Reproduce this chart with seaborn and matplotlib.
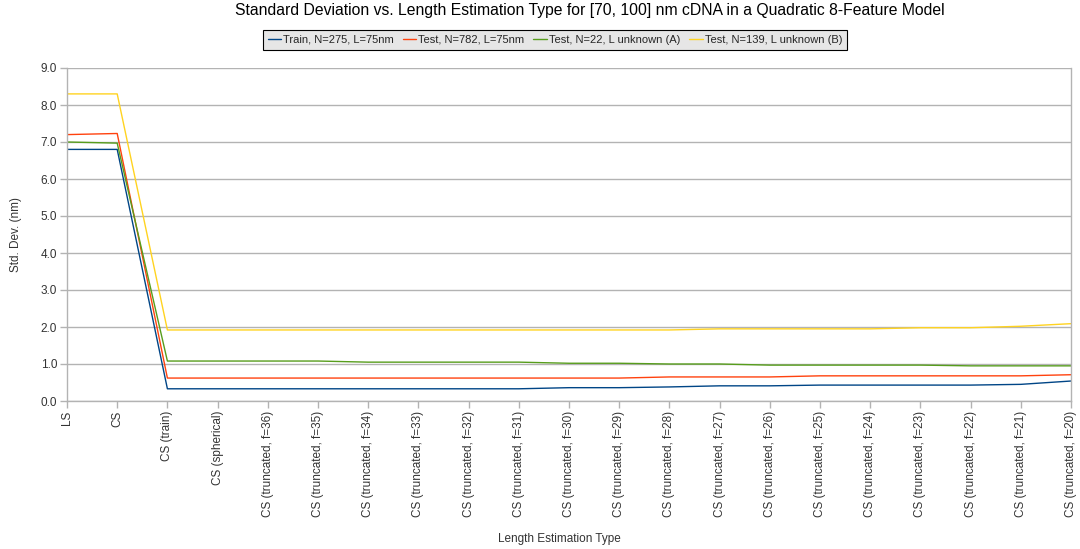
import numpy as np
import pandas as pd
import matplotlib
matplotlib.use("Agg")
import matplotlib.pyplot as plt
import seaborn as sns

categories = ["LS", "CS", "CS (train)", "CS (spherical)"] + [
    f"CS (truncated, f={f})" for f in range(36, 19, -1)
]

train_n275 = [6.80, 6.80, 0.33, 0.33, 0.33, 0.33, 0.33, 0.33, 0.33, 0.33,
              0.36, 0.36, 0.38, 0.41, 0.41, 0.43, 0.43, 0.43, 0.43, 0.45, 0.54]
test_n782 = [7.20, 7.23, 0.62, 0.62, 0.62, 0.62, 0.62, 0.62, 0.62, 0.62,
             0.62, 0.62, 0.65, 0.65, 0.65, 0.68, 0.68, 0.68, 0.68, 0.68, 0.71]
test_n22 = [7.00, 6.97, 1.08, 1.08, 1.08, 1.08, 1.05, 1.05, 1.05, 1.05,
            1.02, 1.02, 1.00, 1.00, 0.97, 0.97, 0.97, 0.97, 0.95, 0.95, 0.95]
test_n139 = [8.30, 8.30, 1.92, 1.92, 1.92, 1.92, 1.92, 1.92, 1.92, 1.92,
             1.92, 1.92, 1.92, 1.95, 1.95, 1.95, 1.95, 1.98, 1.98, 2.02, 2.09]

series_names = ["Train, N=275, L=75nm", "Test, N=782, L=75nm",
                "Test, N=22, L unknown (A)", "Test, N=139, L unknown (B)"]
series_values = [train_n275, test_n782, test_n22, test_n139]
series_colors = ["#004586", "#ff420e", "#579d1c", "#ffd320"]

rows = []
for name, vals in zip(series_names, series_values):
    for i, (cat, v) in enumerate(zip(categories, vals)):
        rows.append({"pos": i, "category": cat, "series": name, "std": v})
df = pd.DataFrame(rows)

sns.set_theme(style="white")
plt.rcParams["font.family"] = ["Liberation Sans", "DejaVu Sans"]

fig = plt.figure(figsize=(10.8, 5.49), dpi=100)
ax = fig.add_axes([67 / 1080, 1 - 401 / 549, (1071 - 67) / 1080, (401 - 68) / 549])

sns.lineplot(data=df, x="pos", y="std", hue="series", hue_order=series_names,
             palette=series_colors, linewidth=1.0, ax=ax, legend=True,
             estimator=None, sort=False)

ax.set_xlim(0, len(categories) - 1)
ax.set_ylim(0, 9)
ax.set_yticks(np.arange(0, 9.01, 1.0))
ax.set_yticklabels([f"{v:.1f}" for v in np.arange(0, 9.01, 1.0)], fontsize=8.5, color="#333333")
ax.set_xticks(range(len(categories)))
ax.set_xticklabels(categories, rotation=90, fontsize=8.5, color="#333333")

ax.yaxis.grid(True, color="#b3b3b3", linewidth=1)
ax.set_axisbelow(True)
for side in ["left", "bottom", "right"]:
    ax.spines[side].set_visible(True)
    ax.spines[side].set_color("#b3b3b3")
    ax.spines[side].set_linewidth(1)
ax.spines["top"].set_visible(False)
ax.tick_params(axis="both", which="major", length=5, color="#b3b3b3", width=1,
               direction="out", pad=2, left=True, bottom=True)

ax.set_xlabel("Length Estimation Type", fontsize=8.5, color="#333333")
ax.set_ylabel("Std. Dev. (nm)", fontsize=8.5, color="#333333")
ax.xaxis.set_label_coords(0.49, -0.395)
ax.yaxis.set_label_coords(-0.045, 0.5)

fig.suptitle("Standard Deviation vs. Length Estimation Type for [70, 100] nm cDNA in a Quadratic 8-Feature Model",
             fontsize=11.3, y=0.995, x=0.546, color="#000000")

handles, labels = ax.get_legend_handles_labels()
ax.legend(handles, labels, loc="center", bbox_to_anchor=(555 / 1080, 1 - 40 / 549),
          bbox_transform=fig.transFigure, ncol=4, fontsize=8.0, frameon=True,
          fancybox=False, edgecolor="#000000", facecolor="#e6e6e6", framealpha=1,
          handlelength=1.2, handletextpad=0.2, columnspacing=0.8, borderpad=0.45)
ax.get_legend().get_frame().set_linewidth(0.8)

fig.savefig("out.png", dpi=100)
